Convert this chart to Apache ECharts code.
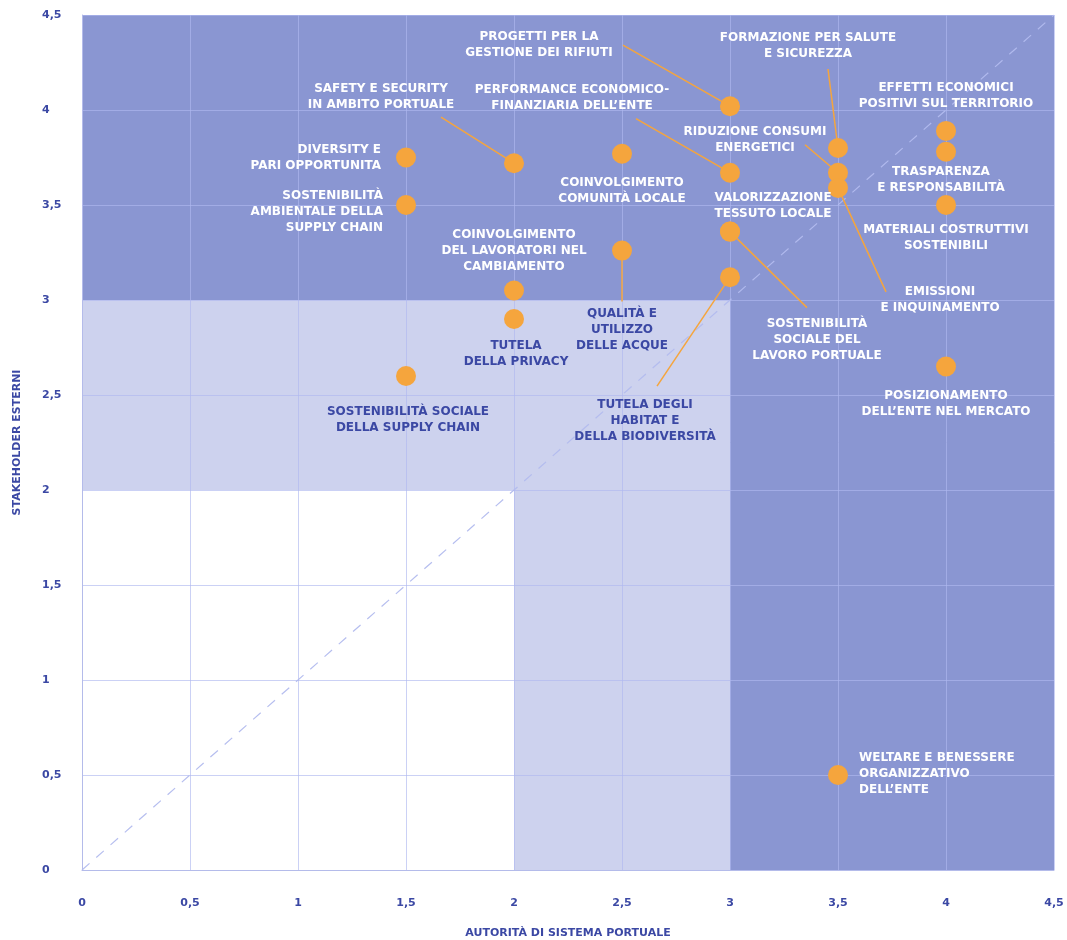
<!DOCTYPE html>
<html>
<head>
<meta charset="utf-8">
<script src="https://cdn.jsdelivr.net/npm/echarts@6/dist/echarts.min.js"></script>
<style>
  html, body { margin: 0; padding: 0; background: #fff; }
  #chart { width: 1067px; height: 940px; }
</style>
</head>
<body>
<div id="chart"></div>
<script>
// temi materiali
const topics = [
  'PROGETTI PER LA\nGESTIONE DEI RIFIUTI',
  'FORMAZIONE PER SALUTE\nE SICUREZZA',
  'SAFETY E SECURITY\nIN AMBITO PORTUALE',
  'PERFORMANCE ECONOMICO-\nFINANZIARIA DELL\u2019ENTE',
  'EFFETTI ECONOMICI\nPOSITIVI SUL TERRITORIO',
  'RIDUZIONE CONSUMI\nENERGETICI',
  'DIVERSITY E\nPARI OPPORTUNITA',
  'COINVOLGIMENTO\nCOMUNITÀ LOCALE',
  'TRASPARENZA\nE RESPONSABILITÀ',
  'SOSTENIBILITÀ\nAMBIENTALE DELLA\nSUPPLY CHAIN',
  'VALORIZZAZIONE\nTESSUTO LOCALE',
  'MATERIALI COSTRUTTIVI\nSOSTENIBILI',
  'COINVOLGIMENTO\nDEL LAVORATORI NEL\nCAMBIAMENTO',
  'QUALITÀ E\nUTILIZZO\nDELLE ACQUE',
  'EMISSIONI\nE INQUINAMENTO',
  'TUTELA\nDELLA PRIVACY',
  'SOSTENIBILITÀ\nSOCIALE DEL\nLAVORO PORTUALE',
  'POSIZIONAMENTO\nDELL\u2019ENTE NEL MERCATO',
  'SOSTENIBILITÀ SOCIALE\nDELLA SUPPLY CHAIN',
  'TUTELA DEGLI\nHABITAT E\nDELLA BIODIVERSITÀ',
  'WELTARE E BENESSERE\nORGANIZZATIVO\nDELL\u2019ENTE'
]
const autorita    = [3, 3.5, 2, 3, 4, 3.5, 1.5, 2.5, 4, 1.5, 3, 4, 2, 2.5, 3.5, 2, 3, 4, 1.5, 3, 3.5]
const stakeholder = [4.02, 3.8, 3.72, 3.67, 3.89, 3.67, 3.75, 3.77, 3.78, 3.5, 3.36, 3.5, 3.05, 3.26, 3.59, 2.9, 3.36, 2.65, 2.6, 3.12, 0.5]
const diagonal = [0, 4.5]

// posizione delle etichette in px: [dx, dy, align, testo scuro]
const labelPos = [
  [-191, -61, 'center', false],
  [-30, -102, 'center', false],
  [-133, -66, 'center', false],
  [-158, -75, 'center', false],
  [0, -35, 'center', false],
  [-83, -33, 'center', false],
  [-25, 0, 'right', false],
  [0, 37, 'center', false],
  [-5, 28, 'center', false],
  [-23, 7, 'right', false],
  [43, -26, 'center', false],
  [0, 33, 'center', false],
  [0, -40, 'center', false],
  [0, 79, 'center', true],
  [102, 112, 'center', false],
  [2, 35, 'center', true],
  [87, 108, 'center', false],
  [0, 37, 'center', false],
  [2, 44, 'center', true],
  [-85, 144, 'center', true],
  [21, -1, 'left', false]
]
// linee guida: indice del tema, fine della linea in px rispetto al punto
const leaders = [
  [0, -107, -61],
  [1, -10, -79],
  [2, -73, -46],
  [3, -94, -54],
  [5, -33, -28],
  [13, 0, 51],
  [14, 48, 104],
  [16, 77, 76],
  [19, -73, 109]
]

const DARK = '#3b48a4'
const ORANGE = '#f5a53d'
const FONT = 'DejaVu Sans'
const fmt = v => String(v).replace('.', ',')

const points = topics.map((t, i) => ({
  name: t,
  value: [autorita[i], stakeholder[i]],
  label: { align: labelPos[i][2], color: labelPos[i][3] ? DARK : '#ffffff' }
}))

const leaderData = leaders.map(l => [autorita[l[0]], stakeholder[l[0]], l[1], l[2]])

const Chart = echarts.init(document.getElementById('chart'))
Chart.setOption({
  animation: false,
  grid: { left: 82, right: 13, top: 15, bottom: 70, containLabel: false, outerBoundsMode: 'none' },
  xAxis: {
    type: 'value', min: 0, max: 4.5, interval: 0.5, z: 2,
    name: 'AUTORITÀ DI SISTEMA PORTUALE',
    nameLocation: 'middle', nameGap: 58,
    nameTextStyle: { color: DARK, fontWeight: 'bold', fontSize: 11, fontFamily: FONT },
    axisLine: { lineStyle: { color: '#b4bbea' } },
    axisTick: { show: false },
    axisLabel: { formatter: fmt, color: DARK, fontWeight: 'bold', fontSize: 11, fontFamily: FONT, margin: 28 },
    splitLine: { lineStyle: { color: 'rgba(175,185,240,0.65)' } }
  },
  yAxis: {
    type: 'value', min: 0, max: 4.5, interval: 0.5, z: 2,
    name: 'STAKEHOLDER ESTERNI',
    nameLocation: 'middle', nameGap: 59,
    nameTextStyle: { color: DARK, fontWeight: 'bold', fontSize: 11, fontFamily: FONT },
    axisLine: { show: true, lineStyle: { color: '#b4bbea' } },
    axisTick: { show: false },
    axisLabel: { formatter: fmt, color: DARK, fontWeight: 'bold', fontSize: 11, fontFamily: FONT, margin: 40, align: 'left' },
    splitLine: { lineStyle: { color: 'rgba(175,185,240,0.65)' } }
  },
  series: [
    {
      // fasce di sfondo
      type: 'scatter', data: [], z: 0, silent: true,
      markArea: {
        silent: true, z: 0,
        data: [
          [{ coord: [0, 3], itemStyle: { color: '#8a96d2' } }, { coord: [4.5, 4.5] }],
          [{ coord: [3, 0], itemStyle: { color: '#8a96d2' } }, { coord: [4.5, 3] }],
          [{ coord: [0, 2], itemStyle: { color: '#cdd2ee' } }, { coord: [3, 3] }],
          [{ coord: [2, 0], itemStyle: { color: '#cdd2ee' } }, { coord: [3, 2] }]
        ]
      }
    },
    {
      type: 'line', symbol: 'none', silent: true, z: 3,
      data: [[diagonal[0], diagonal[0]], [diagonal[1], diagonal[1]]],
      lineStyle: { color: 'rgba(178,186,238,0.95)', width: 1.2, type: [10, 9] }
    },
    {
      type: 'custom', silent: true, z: 4,
      data: leaderData,
      renderItem: (params, api) => {
        const p = api.coord([api.value(0), api.value(1)])
        return {
          type: 'line',
          shape: { x1: p[0], y1: p[1], x2: p[0] + api.value(2), y2: p[1] + api.value(3) },
          style: { stroke: ORANGE, lineWidth: 1.5 }
        }
      }
    },
    {
      type: 'scatter', symbolSize: 20, z: 5,
      itemStyle: { color: ORANGE, opacity: 1 },
      data: points,
      label: {
        show: true, position: 'inside', formatter: '{b}',
        verticalAlign: 'middle',
        fontFamily: FONT, fontWeight: 'bold', fontSize: 12, lineHeight: 16
      },
      labelLayout: p => ({ dx: labelPos[p.dataIndex][0], dy: labelPos[p.dataIndex][1] })
    }
  ]
})
</script>
</body>
</html>
